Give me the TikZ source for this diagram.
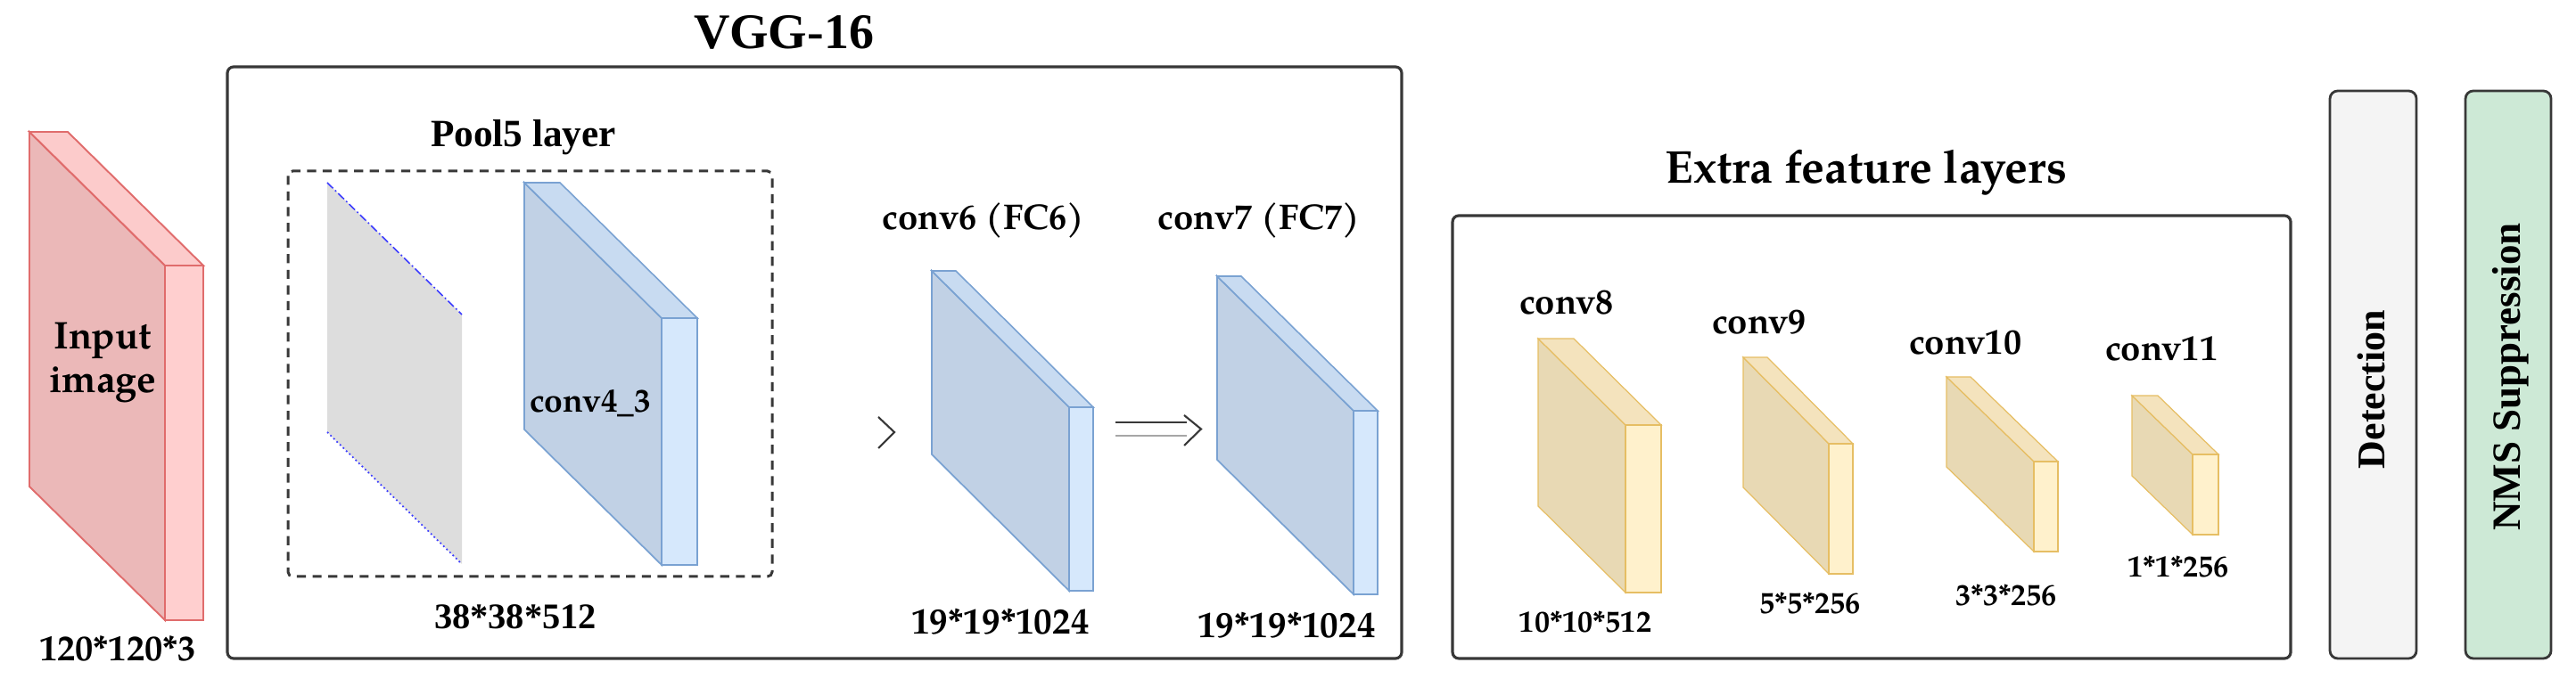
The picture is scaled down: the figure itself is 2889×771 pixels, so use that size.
\documentclass[tikz,border=0pt]{standalone}
\usepackage{fontspec}
\setmainfont{TeX Gyre Pagella}
\newfontfamily\tnr{Liberation Serif}
\definecolor{inF}{HTML}{EBB8B8}
\definecolor{inT}{HTML}{FCCBCB}
\definecolor{inS}{HTML}{FFCFCF}
\definecolor{inE}{HTML}{E06C6C}
\definecolor{blF}{HTML}{C1D1E5}
\definecolor{blT}{HTML}{C8DBF1}
\definecolor{blS}{HTML}{D6E8FC}
\definecolor{blE}{HTML}{7AA2D2}
\definecolor{yeF}{HTML}{E8D9B4}
\definecolor{yeT}{HTML}{F4E3BD}
\definecolor{yeS}{HTML}{FFF1CC}
\definecolor{yeE}{HTML}{E6BE64}
\definecolor{frameC}{HTML}{383838}
\definecolor{panelC}{HTML}{DDDDDD}
\definecolor{dotC}{HTML}{3C3CFF}
\definecolor{detC}{HTML}{F4F4F4}
\definecolor{nmsC}{HTML}{CDE9D6}
\tikzset{
  inFront/.style={fill=inF, draw=inE, line width=0.55pt},
  inTop/.style={fill=inT, draw=inE, line width=0.55pt},
  inSide/.style={fill=inS, draw=inE, line width=0.55pt},
  blFront/.style={fill=blF, draw=blE, line width=0.5pt},
  blTop/.style={fill=blT, draw=blE, line width=0.45pt},
  blSide/.style={fill=blS, draw=blE, line width=0.5pt},
  yeFront/.style={fill=yeF, draw=yeE, line width=0.35pt},
  yeTop/.style={fill=yeT, draw=yeE, line width=0.35pt},
  yeSide/.style={fill=yeS, draw=yeE, line width=0.35pt},
  grpbox/.style={draw=frameC, line width=0.9pt, rounded corners=2pt},
  sidebox/.style={draw=frameC, line width=0.8pt, rounded corners=2.5pt},
  dashbox/.style={draw=frameC, line width=0.85pt, dash pattern=on 2.9pt off 2.1pt, rounded corners=1.5pt},
  lbl/.style={inner sep=0pt, anchor=base},
  convlbl/.style={lbl, font=\bfseries\fontsize{11.4}{13}\selectfont},
  sizelbl/.style={lbl, font=\bfseries\fontsize{11.7}{13}\selectfont},
  smalllbl/.style={lbl, font=\bfseries\fontsize{9.7}{11}\selectfont},
  chev/.style={draw=frameC, line width=0.6pt},
}
\newcommand{\layerblock}[8]{%
  \coordinate (#8) at (#1,#2);
  \filldraw[#7Front] (#1,#2) -- ++(#3,#4) -- ++(0,#5) -- ++(-#3,-#4) -- cycle;
  \filldraw[#7Top] (#1,#2) -- ++(#6,0) -- ++(#3,#4) -- ++(-#6,0) -- cycle;
  \filldraw[#7Side] (#1,#2) ++(#3,#4) -- ++(#6,0) -- ++(0,#5) -- ++(-#6,0) -- cycle;
}
\begin{document}
\begin{tikzpicture}[x=0.01cm, y=-0.01cm]
\useasboundingbox (0,0) rectangle (2889,771);

% group frames
\draw[grpbox] (255,75) rectangle (1572,739);
\draw[grpbox] (1629,242) rectangle (2569,739);
\node[lbl, font=\tnr\bfseries\fontsize{15.9}{18}\selectfont] (vggtitle) at (879,55) {VGG-16};
\node[lbl, font=\bfseries\fontsize{14.7}{17}\selectfont] (extratitle) at (2093,206) {Extra feature layers};

% input image
\layerblock{33}{148}{152}{150}{398}{43}{in}{inblk}
\node[lbl, font=\bfseries\fontsize{12.3}{14}\selectfont] (inputa) at (115,392) {Input};
\node[lbl, font=\bfseries\fontsize{12.3}{14}\selectfont] (inputb) at (115,441) {image};
\node[lbl, font=\bfseries\fontsize{11.5}{13}\selectfont] (insize) at (132,742) {120*120*3};

% pool5 group
\draw[dashbox] (323,192) rectangle (866,647);
\node[lbl, font=\tnr\bfseries\fontsize{12.3}{14}\selectfont] (pooltitle) at (587,165) {Pool5 layer};
\fill[panelC] (367,205) -- (518,353) -- (518,633) -- (367,485) -- cycle;
\coordinate (pa) at (367,205); \coordinate (pb) at (518,353);
\coordinate (pc) at (367,485); \coordinate (pd) at (518,633);
\draw[dotC, line width=0.45pt, dash pattern=on 2.6pt off 0.9pt on 0.5pt off 0.9pt] (pa) -- (pb);
\draw[dotC, line width=0.5pt, dash pattern=on 0.5pt off 0.9pt] (pc) -- (pd);
\layerblock{588}{205}{154}{152}{277}{40}{bl}{conv43}
\node[lbl, font=\bfseries\fontsize{10.6}{12}\selectfont] (conv43lbl) at (662,463) {conv4\_3};
\node[lbl, font=\tnr\bfseries\fontsize{11.5}{13}\selectfont] (poolsize) at (578,706) {38*38*512};

% conv6 / conv7
\coordinate (cva) at (985,468); \coordinate (cvb) at (1003,485); \coordinate (cvc) at (985,503);
\draw[chev] (cva) -- (cvb) -- (cvc);
\layerblock{1045}{304}{154}{153}{206}{27}{bl}{conv6}
\node[convlbl] (conv6lbl) at (1103,258) {conv6 (FC6)};
\node[sizelbl] (conv6size) at (1122,712) {19*19*1024};

\coordinate (ara) at (1251,474); \coordinate (arb) at (1331,474);
\coordinate (arc) at (1251,489); \coordinate (ard) at (1331,489);
\coordinate (are) at (1328,466); \coordinate (arf) at (1347,481.5); \coordinate (arg) at (1328,500);
\draw[frameC, line width=0.6pt] (ara) -- (arb);
\draw[black!35, line width=0.6pt] (arc) -- (ard);
\draw[chev] (are) -- (arf) -- (arg);

\layerblock{1365}{310}{153}{151}{206}{27}{bl}{conv7}
\node[convlbl] (conv7lbl) at (1412,258) {conv7 (FC7)};
\node[sizelbl] (conv7size) at (1443,716) {19*19*1024};

% extra feature layers
\layerblock{1725}{380}{98}{97}{188}{40}{ye}{conv8}
\node[convlbl] (conv8lbl) at (1757,353) {conv8};
\node[smalllbl] (conv8size) at (1778,710) {10*10*512};
\layerblock{1955}{401}{96}{97}{146}{27}{ye}{conv9}
\node[convlbl] (conv9lbl) at (1973,375) {conv9};
\node[smalllbl] (conv9size) at (2030,689) {5*5*256};
\layerblock{2183}{423}{98}{95}{101}{27}{ye}{conv10}
\node[convlbl] (conv10lbl) at (2204,398) {conv10};
\node[smalllbl] (conv10size) at (2250,680) {3*3*256};
\layerblock{2391}{444}{68}{66}{90}{29}{ye}{conv11}
\node[convlbl] (conv11lbl) at (2424,405) {conv11};
\node[smalllbl] (conv11size) at (2443,648) {1*1*256};

% detection and NMS
\draw[sidebox, fill=detC] (2613,102) rectangle (2710,739);
\node[lbl, rotate=90, font=\tnr\bfseries\fontsize{12.5}{14}\selectfont] (det) at (2674,437) {Detection};
\draw[sidebox, fill=nmsC] (2765,102) rectangle (2861,739);
\node[lbl, rotate=90, font=\tnr\bfseries\fontsize{12.8}{14}\selectfont] (nms) at (2826,423) {NMS Suppression};
\end{tikzpicture}
\end{document}
